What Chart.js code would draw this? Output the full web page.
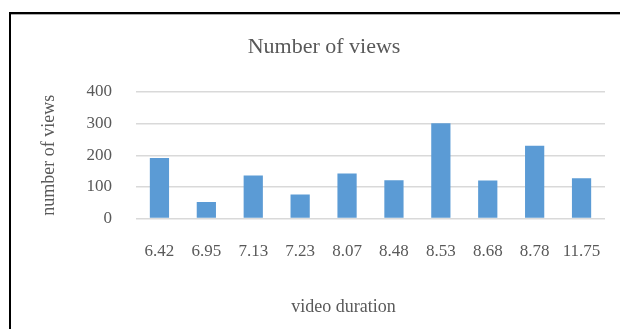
<!DOCTYPE html>
<html>
<head>
<meta charset="utf-8">
<script src="https://cdn.jsdelivr.net/npm/chart.js@4.4.1/dist/chart.umd.min.js"></script>
<style>
  html, body { margin: 0; padding: 0; background: #fff; overflow: hidden; }
  #frame {
    position: absolute; left: 9px; top: 12px; width: 700px; height: 400px;
    border-left: 2px solid #000; border-top: 2px solid #000;
    box-shadow: inset 0 1px 0 #aaa;
  }
  #wrap { position: absolute; left: 11px; top: 0; width: 626px; height: 329px; }
</style>
</head>
<body>
<div id="frame"></div>
<div id="wrap"><canvas id="viewsChart"></canvas></div>
<script>
// Chart data
const durations = ["6.42", "6.95", "7.13", "7.23", "8.07", "8.48", "8.53", "8.68", "8.78", "11.75"];
const views = [191, 52, 136, 76, 142, 121, 301, 120, 230, 127];
const yTicks = [0, 100, 200, 300, 400];
const xTitle = "video duration";

const textColor = "#595959";
const serif = "'Liberation Serif', 'Times New Roman', serif";

Chart.defaults.color = textColor;
Chart.defaults.font.family = serif;

// x axis title sits left of the plot centre in the original, so draw it here
const xTitlePlugin = {
  id: "xTitle",
  afterDraw(chart) {
    const c = chart.ctx;
    c.save();
    c.font = "18px " + serif;
    c.fillStyle = textColor;
    c.textAlign = "center";
    c.textBaseline = "middle";
    c.fillText(xTitle, (chart.chartArea.left + chart.chartArea.right) / 2 - 27, chart.height - 22);
    c.restore();
  },
};

const ctx = document.getElementById("viewsChart").getContext("2d");
new Chart(ctx, {
  type: "bar",
  data: {
    labels: durations,
    datasets: [
      {
        label: "Number of views",
        data: views,
        backgroundColor: "#5b9bd5",
        borderWidth: 0,
        barPercentage: 0.41,
        categoryPercentage: 1,
      },
    ],
  },
  plugins: [xTitlePlugin],
  options: {
    responsive: true,
    maintainAspectRatio: false,
    animation: false,
    layout: {
      padding: 0,
    },
    plugins: {
      legend: { display: false },
      tooltip: { enabled: false },
      title: {
        display: true,
        text: "Number of views",
        color: textColor,
        font: { size: 22, weight: "normal" },
        padding: { top: 34, bottom: 31.6 },
      },
    },
    scales: {
      x: {
        grid: { display: false, drawTicks: false },
        border: { display: false },
        ticks: {
          color: textColor,
          font: { size: 17 },
          padding: 23,
          maxRotation: 0,
          autoSkip: false,
        },
        afterFit: (scale) => {
          scale.height = 110.5;
        },
      },
      y: {
        min: 0,
        max: 400,
        afterBuildTicks: (scale) => {
          scale.ticks = yTicks.map((v) => ({ value: v }));
        },
        grid: { color: "#d9d9d9", lineWidth: 1.5, drawTicks: false },
        border: { display: false },
        ticks: {
          color: textColor,
          font: { size: 17 },
          padding: 24,
        },
        title: {
          display: true,
          text: "number of views",
          color: textColor,
          font: { size: 18 },
          padding: { top: 27, bottom: 0 },
        },
        afterFit: (scale) => {
          scale.width = 125;
        },
      },
      // empty right margin so the title stays centred on the whole frame
      yRight: {
        position: "right",
        min: 0,
        max: 400,
        grid: { display: false, drawTicks: false },
        border: { display: false },
        ticks: { display: false },
        afterFit: (scale) => {
          scale.width = 32;
        },
      },
    },
  },
});
</script>
</body>
</html>
